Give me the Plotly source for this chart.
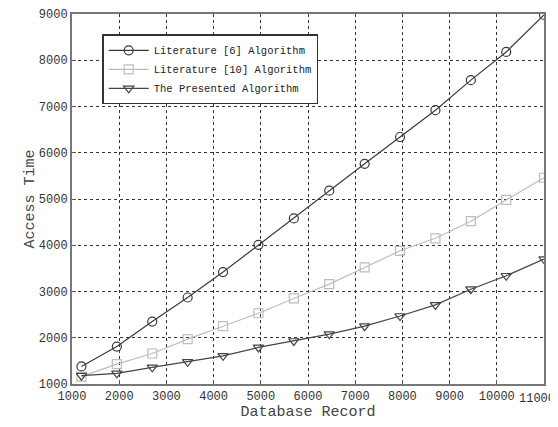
import plotly.graph_objects as go

records = [1200, 1950, 2700, 3450, 4200, 4950, 5700, 6450, 7200, 7950, 8700, 9450, 10200, 11000]
lit6 = [1380, 1810, 2350, 2870, 3420, 4010, 4580, 5180, 5760, 6340, 6920, 7570, 8180, 8980]
lit10 = [1160, 1430, 1660, 1970, 2250, 2530, 2850, 3160, 3520, 3880, 4150, 4520, 4980, 5460]
presented = [1180, 1230, 1360, 1480, 1610, 1790, 1930, 2080, 2250, 2470, 2710, 3050, 3340, 3700]

names = ["Literature [6] Algorithm", "Literature [10] Algorithm", "The Presented Algorithm"]
x_ticks = [1000, 2000, 3000, 4000, 5000, 6000, 7000, 8000, 9000, 10000, 11000]
y_ticks = [1000, 2000, 3000, 4000, 5000, 6000, 7000, 8000, 9000]

font_mono = "Liberation Mono, DejaVu Sans Mono, monospace"

# last x tick label is drawn as an annotation so it stays inside the page
x_ticktext = [str(v) for v in x_ticks]
last_label = x_ticktext[-1]
x_ticktext[-1] = ""

fig = go.Figure()
fig.add_trace(go.Scatter(x=records, y=lit6, name=names[0], mode="lines+markers",
                         line=dict(color="#3a3a3a", width=1.2),
                         marker=dict(symbol="circle-open", size=9, color="#3a3a3a", line=dict(width=1.2))))
fig.add_trace(go.Scatter(x=records, y=lit10, name=names[1], mode="lines+markers",
                         line=dict(color="#bdbdbd", width=1.2),
                         marker=dict(symbol="square-open", size=9, color="#bdbdbd", line=dict(width=1.2))))
fig.add_trace(go.Scatter(x=records, y=presented, name=names[2], mode="lines+markers",
                         line=dict(color="#444444", width=1.2),
                         marker=dict(symbol="triangle-down-open", size=9, color="#444444", line=dict(width=1.2))))

axis_common = dict(showgrid=True, gridcolor="#333333", griddash="dot", gridwidth=1,
                   showline=True, linecolor="#777777", linewidth=2, mirror=True,
                   ticks="inside", ticklen=4, tickcolor="#555555", zeroline=False,
                   automargin=False,
                   tickfont=dict(family=font_mono, size=12, color="#333333"))

fig.update_layout(
    width=550, height=419,
    margin=dict(l=64, r=14, t=6, b=43),
    paper_bgcolor="white", plot_bgcolor="white",
    xaxis=dict(range=[1000, 11000], tickvals=x_ticks, ticktext=x_ticktext,
               title=dict(text="Database Record", standoff=0,
                          font=dict(family=font_mono, size=15, color="#444444")),
               **axis_common),
    yaxis=dict(range=[1000, 9000], tickvals=y_ticks, ticktext=[str(v) for v in y_ticks],
               title=dict(text="Access Time", standoff=0,
                          font=dict(family=font_mono, size=15, color="#444444")),
               **axis_common),
    legend=dict(x=0.064, y=0.945, xanchor="left", yanchor="top",
                bgcolor="white", bordercolor="#333333", borderwidth=1.5,
                font=dict(family=font_mono, size=10.5, color="#222222"),
                tracegroupgap=0, itemwidth=40),
    showlegend=True,
)

fig.add_annotation(x=x_ticks[-1], xref="x", y=0, yref="paper", text=last_label,
                   showarrow=False, xanchor="right", yanchor="top", xshift=13, yshift=-6,
                   font=dict(family=font_mono, size=12, color="#333333"))

fig.write_html("out.html")
